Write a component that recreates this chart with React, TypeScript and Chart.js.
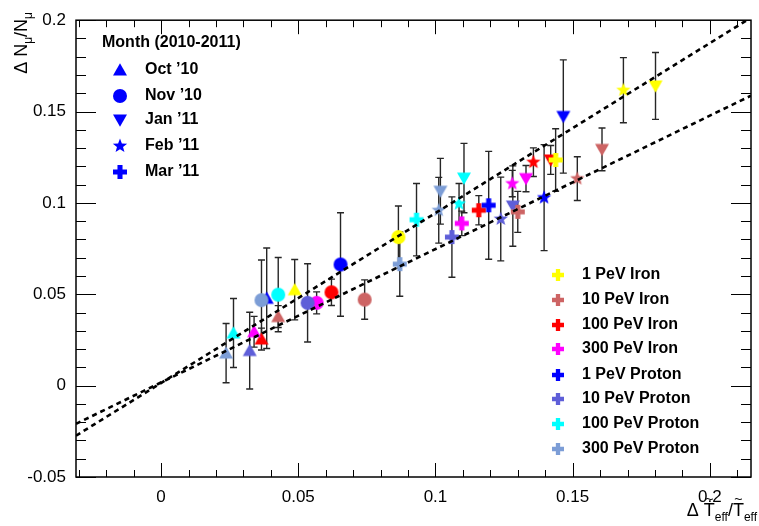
import React, { useEffect, useRef } from "react";
import { Chart, registerables } from "chart.js";
Chart.register(...registerables);

// ---------- data ----------
const compositions = [
  "1 PeV Iron",
  "10 PeV Iron",
  "100 PeV Iron",
  "300 PeV Iron",
  "1 PeV Proton",
  "10 PeV Proton",
  "100 PeV Proton",
  "300 PeV Proton",
];
const compositionColors = ["#ffff00", "#cd6464", "#ff0000", "#ff00ff", "#0000ff", "#5e5ed8", "#00ffff", "#7c9dd6"];

const months = ["Oct \u201910", "Nov \u201910", "Jan \u201911", "Feb \u201911", "Mar \u201911"];
const monthShapes = ["triangle", "circle", "invTriangle", "star", "plus"];

// values in composition order
const octX = [0.0487, 0.0427, 0.0366, 0.0339, 0.0385, 0.0323, 0.0264, 0.0237];
const octY = [0.0525, 0.0378, 0.0255, 0.0295, 0.0478, 0.0192, 0.0288, 0.0178];
const octErr = [0.0165, 0.006, 0.006, 0.0084, 0.0275, 0.021, 0.0189, 0.0162];

const novX = [0.0865, 0.0742, 0.0621, 0.0567, 0.0654, 0.0534, 0.0427, 0.0366];
const novY = [0.0813, 0.0471, 0.0511, 0.0453, 0.0663, 0.0453, 0.0498, 0.0468];
const novErr = [0.017, 0.0108, 0.0072, 0.006, 0.0283, 0.0214, 0.0203, 0.022];

const janX = [0.1802, 0.1607, 0.142, 0.133, 0.1466, 0.1282, 0.1104, 0.1018];
const janY = [0.164, 0.1293, 0.1235, 0.1133, 0.1473, 0.0983, 0.1136, 0.1064];
const janErr = [0.0183, 0.0117, 0.0079, 0.0072, 0.031, 0.022, 0.019, 0.018];

const febX = [0.1685, 0.1517, 0.1357, 0.128, 0.1396, 0.1238, 0.1086, 0.1012];
const febY = [0.1617, 0.1133, 0.1223, 0.1106, 0.1029, 0.0912, 0.0996, 0.096];
const febErr = [0.0178, 0.012, 0.0078, 0.0072, 0.029, 0.0229, 0.011, 0.018];

const marX = [0.1438, 0.13, 0.1158, 0.1096, 0.1194, 0.106, 0.0931, 0.087];
const marY = [0.1235, 0.0951, 0.096, 0.0888, 0.0987, 0.0813, 0.0908, 0.0665];
const marErr = [0.0171, 0.0112, 0.008, 0.0067, 0.0295, 0.022, 0.0198, 0.0176];

const monthX = [octX, novX, janX, febX, marX];
const monthY = [octY, novY, janY, febY, marY];
const monthErr = [octErr, novErr, janErr, febErr, marErr];

// fitted lines (end points)
const fitSteepX = [-0.031, 0.215];
const fitSteepY = [-0.0274, 0.2014];
const fitShallowX = [-0.031, 0.215];
const fitShallowY = [-0.0209, 0.1587];

const xMin = -0.031;
const xMax = 0.215;
const yMin = -0.05;
const yMax = 0.2;

const legendTitle = "Month (2010-2011)";

// ---------- markers ----------
const markerCache = new Map<string, HTMLCanvasElement>();
function makeMarker(shape: string, color: string, size: number): HTMLCanvasElement {
  const key = shape + color + size;
  const hit = markerCache.get(key);
  if (hit) return hit;
  const dim = Math.ceil(size + 4);
  const c = document.createElement("canvas");
  c.width = dim;
  c.height = dim;
  const g = c.getContext("2d")!;
  g.fillStyle = color;
  const cx = dim / 2;
  const cy = dim / 2;
  const r = size / 2;
  g.beginPath();
  if (shape === "circle") {
    g.arc(cx, cy, r, 0, Math.PI * 2);
  } else if (shape === "triangle") {
    g.moveTo(cx, cy - r * 0.95);
    g.lineTo(cx + r, cy + r * 0.8);
    g.lineTo(cx - r, cy + r * 0.8);
  } else if (shape === "invTriangle") {
    g.moveTo(cx, cy + r * 0.95);
    g.lineTo(cx + r, cy - r * 0.8);
    g.lineTo(cx - r, cy - r * 0.8);
  } else if (shape === "star") {
    const ro = r * 1.08;
    const ri = ro * 0.42;
    for (let i = 0; i < 10; i++) {
      const a = -Math.PI / 2 + (i * Math.PI) / 5;
      const rr = i % 2 === 0 ? ro : ri;
      const px = cx + rr * Math.cos(a);
      const py = cy + rr * Math.sin(a);
      if (i === 0) g.moveTo(px, py);
      else g.lineTo(px, py);
    }
  } else if (shape === "plus") {
    const w = size * 0.18;
    g.moveTo(cx - w, cy - r);
    g.lineTo(cx + w, cy - r);
    g.lineTo(cx + w, cy - w);
    g.lineTo(cx + r, cy - w);
    g.lineTo(cx + r, cy + w);
    g.lineTo(cx + w, cy + w);
    g.lineTo(cx + w, cy + r);
    g.lineTo(cx - w, cy + r);
    g.lineTo(cx - w, cy + w);
    g.lineTo(cx - r, cy + w);
    g.lineTo(cx - r, cy - w);
    g.lineTo(cx - w, cy - w);
  }
  g.closePath();
  g.fill();
  markerCache.set(key, c);
  return c;
}

const FONT = '"Liberation Sans", Arial, Helvetica, sans-serif';

function fmt(v: number): string {
  if (Math.abs(v) < 1e-9) return "0";
  return String(parseFloat(v.toFixed(3)));
}

type Part = { t: string; sub?: boolean; tilde?: boolean };
function drawRich(ctx: CanvasRenderingContext2D, parts: Part[], x: number, y: number, size: number, align: "left" | "right") {
  const subSize = Math.round(size * 0.68);
  const widths = parts.map((p) => {
    ctx.font = `${p.sub ? subSize : size}px ${FONT}`;
    return ctx.measureText(p.t).width;
  });
  const total = widths.reduce((a, b) => a + b, 0);
  let cx = align === "right" ? x - total : x;
  ctx.textAlign = "left";
  ctx.textBaseline = "alphabetic";
  parts.forEach((p, i) => {
    ctx.font = `${p.sub ? subSize : size}px ${FONT}`;
    ctx.fillText(p.t, cx, y + (p.sub ? size * 0.3 : 0));
    if (p.tilde) {
      ctx.save();
      ctx.font = `${Math.round(size * 0.8)}px ${FONT}`;
      ctx.textAlign = "center";
      ctx.fillText("~", cx + widths[i] / 2, y - size * 0.68);
      ctx.restore();
      ctx.textAlign = "left";
    }
    cx += widths[i];
  });
}

const decorPlugin = {
  id: "decor",
  beforeDatasetsDraw(chart: any) {
    const ctx: CanvasRenderingContext2D = chart.ctx;
    const xs = chart.scales.x;
    const ys = chart.scales.y;
    ctx.save();
    ctx.strokeStyle = "#262626";
    ctx.lineWidth = 1.4;
    for (let m = 0; m < monthX.length; m++) {
      for (let i = 0; i < monthX[m].length; i++) {
        const px = xs.getPixelForValue(monthX[m][i]);
        const top = ys.getPixelForValue(monthY[m][i] + monthErr[m][i]);
        const bot = ys.getPixelForValue(monthY[m][i] - monthErr[m][i]);
        ctx.beginPath();
        ctx.moveTo(px, top);
        ctx.lineTo(px, bot);
        ctx.moveTo(px - 3.5, top);
        ctx.lineTo(px + 3.5, top);
        ctx.moveTo(px - 3.5, bot);
        ctx.lineTo(px + 3.5, bot);
        ctx.stroke();
      }
    }
    ctx.restore();
  },
  afterDraw(chart: any) {
    const ctx: CanvasRenderingContext2D = chart.ctx;
    const a = chart.chartArea;
    const xs = chart.scales.x;
    const ys = chart.scales.y;
    ctx.save();
    // frame
    ctx.strokeStyle = "#000";
    ctx.lineWidth = 1.5;
    ctx.strokeRect(a.left, a.top, a.right - a.left, a.bottom - a.top);
    // ticks
    ctx.lineWidth = 1;
    ctx.beginPath();
    for (let i = -3; i <= 21; i++) {
      const v = i / 100;
      const px = Math.round(xs.getPixelForValue(v)) + 0.5;
      const len = i % 5 === 0 ? 14 : 7;
      ctx.moveTo(px, a.bottom);
      ctx.lineTo(px, a.bottom - len);
      ctx.moveTo(px, a.top);
      ctx.lineTo(px, a.top + len);
    }
    for (let i = -5; i <= 20; i++) {
      const v = i / 100;
      const py = Math.round(ys.getPixelForValue(v)) + 0.5;
      const len = i % 5 === 0 ? 20 : 10;
      ctx.moveTo(a.left, py);
      ctx.lineTo(a.left + len, py);
      ctx.moveTo(a.right, py);
      ctx.lineTo(a.right - len, py);
    }
    ctx.stroke();

    // axis titles
    ctx.fillStyle = "#000";
    ctx.save();
    ctx.translate(27, 12);
    ctx.rotate(-Math.PI / 2);
    drawRich(ctx, [{ t: "\u0394 N" }, { t: "\u03bc", sub: true }, { t: "/N" }, { t: "\u03bc", sub: true }], 0, 0, 18, "right");
    ctx.restore();
    drawRich(
      ctx,
      [{ t: "\u0394 " }, { t: "T", tilde: true }, { t: "eff", sub: true }, { t: "/" }, { t: "T", tilde: true }, { t: "eff", sub: true }],
      757,
      516,
      18,
      "right"
    );

    // legend 1: months
    ctx.font = `bold 16px ${FONT}`;
    ctx.textAlign = "left";
    ctx.textBaseline = "middle";
    ctx.fillText(legendTitle, 102, 43);
    const rows1 = [70, 96, 120, 146, 172];
    months.forEach((m, i) => {
      const mk = makeMarker(monthShapes[i], "#0000ff", 14);
      ctx.drawImage(mk, 120 - mk.width / 2, rows1[i] - mk.height / 2);
      ctx.fillText(m, 145, rows1[i]);
    });
    // legend 2: compositions
    const rows2 = [275, 300, 325, 349, 375, 399, 424, 449];
    compositions.forEach((c, i) => {
      const mk = makeMarker("plus", compositionColors[i], 12);
      ctx.drawImage(mk, 558 - mk.width / 2, rows2[i] - mk.height / 2);
      ctx.fillText(c, 582, rows2[i]);
    });
    ctx.restore();
  },
};

export default function App() {
  const ref = useRef<HTMLCanvasElement | null>(null);
  useEffect(() => {
    document.body.style.margin = "0";
    const canvas = ref.current!;
    const monthDatasets = months.map((m, mi) => ({
      type: "scatter" as const,
      label: m,
      data: monthX[mi].map((x, i) => ({ x, y: monthY[mi][i] })),
      pointStyle: compositionColors.map((c) => makeMarker(monthShapes[mi], c, 14)),
      pointRadius: 7,
      showLine: false,
      order: 5 - mi,
    }));
    const chart = new Chart(canvas, {
      type: "scatter",
      data: {
        datasets: [
          {
            type: "scatter" as const,
            label: "fit steep",
            data: fitSteepX.map((x, i) => ({ x, y: fitSteepY[i] })),
            showLine: true,
            pointRadius: 0,
            borderColor: "#000",
            borderWidth: 2.6,
            borderDash: [5, 4],
            order: 0,
          },
          {
            type: "scatter" as const,
            label: "fit shallow",
            data: fitShallowX.map((x, i) => ({ x, y: fitShallowY[i] })),
            showLine: true,
            pointRadius: 0,
            borderColor: "#000",
            borderWidth: 2.6,
            borderDash: [5, 4],
            order: 0,
          },
          ...monthDatasets,
        ] as any,
      },
      options: {
        responsive: false,
        animation: false,
        layout: { padding: { top: 13, right: 2, left: 0, bottom: 0 } },
        plugins: { legend: { display: false }, tooltip: { enabled: false } },
        scales: {
          x: {
            type: "linear",
            min: xMin,
            max: xMax,
            afterFit: (s: any) => {
              s.height = 49;
            },
            grid: { display: false, drawTicks: false },
            border: { display: false },
            ticks: {
              stepSize: 0.05,
              includeBounds: false,
              autoSkip: false,
              maxRotation: 0,
              padding: 10,
              color: "#000",
              font: { family: FONT, size: 17 },
              callback: (v: any) => fmt(Number(v)),
            },
          },
          y: {
            type: "linear",
            min: yMin,
            max: yMax,
            afterFit: (s: any) => {
              s.width = 76;
            },
            grid: { display: false, drawTicks: false },
            border: { display: false },
            ticks: {
              stepSize: 0.05,
              includeBounds: false,
              autoSkip: false,
              padding: 10,
              color: "#000",
              font: { family: FONT, size: 17 },
              callback: (v: any) => fmt(Number(v)),
            },
          },
        },
      } as any,
      plugins: [decorPlugin],
    });
    return () => chart.destroy();
  }, []);
  return (
    <div style={{ position: "fixed", left: 0, top: 0, width: 759, height: 526, background: "#fff" }}>
      <canvas ref={ref} width={759} height={526} style={{ display: "block" }} />
    </div>
  );
}
